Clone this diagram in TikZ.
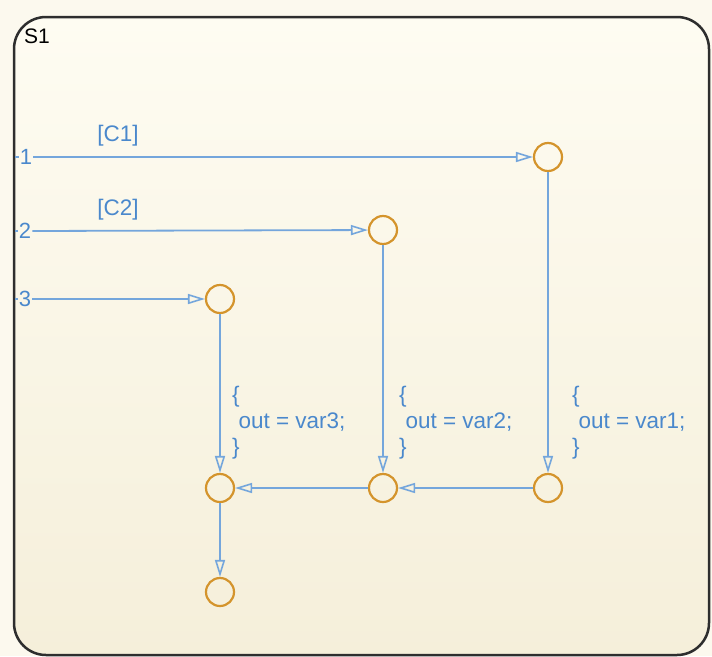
\documentclass[tikz,border=0pt]{standalone}
\usepackage{fontspec}
\setmainfont{Liberation Sans}
\usetikzlibrary{arrows.meta}
\definecolor{bgout}{HTML}{FCF9EE}
\definecolor{bgtop}{HTML}{FEFCF2}
\definecolor{bgbot}{HTML}{F5EFDA}
\definecolor{ln}{HTML}{74A6DC}
\definecolor{tx}{HTML}{4A88CC}
\definecolor{jn}{HTML}{D4942C}
\definecolor{bd}{HTML}{2E2E2E}
\tikzset{
  junc/.style={circle,draw=jn,line width=2.2pt,minimum size=28pt,inner sep=0pt},
  trans/.style={draw=ln,line width=1.8pt,-{Triangle[open,length=17pt,width=10pt,line width=1.6pt]}},
  plain/.style={draw=ln,line width=1.8pt},
  lbl/.style={text=tx,font=\fontsize{22.5}{26}\selectfont,inner sep=0pt},
  act/.style={text=tx,font=\fontsize{22.5}{26}\selectfont,align=left,anchor=north west,inner sep=0pt},
  num/.style={text=tx,font=\fontsize{22}{24}\selectfont,inner sep=1pt}
}
\begin{document}
\begin{tikzpicture}[x=1pt,y=-1pt]
\useasboundingbox (0,0) rectangle (712,656);
\fill[bgout] (0,0) rectangle (712,656);
\shade[top color=bgtop,bottom color=bgbot,rounded corners=32pt] (14,17) rectangle (709,655);
\draw[bd,line width=2.5pt,rounded corners=32pt] (14,17) rectangle (709,655);
\node[text=black,font=\fontsize{21}{24}\selectfont,anchor=north west,inner sep=0pt] (s1) at (24,29) {S1};

\node[junc] (A) at (548,157) {};
\node[junc] (B) at (383,230) {};
\node[junc] (C) at (220,299) {};
\node[junc] (D) at (548,488) {};
\node[junc] (E) at (383,488) {};
\node[junc] (F) at (220,488) {};
\node[junc] (G) at (220,592) {};

\coordinate (b1) at (15,157);
\coordinate (b2) at (15,231);
\coordinate (b3) at (15,299);
\node[num] (n1) at (26,157) {1};
\node[num] (n2) at (25,231) {2};
\node[num] (n3) at (25,299) {3};
\draw[plain] (b1) -- (n1.west);
\draw[plain] (b2) -- (n2.west);
\draw[plain] (b3) -- (n3.west);
\draw[trans] (n1.east) -- (A);
\draw[trans] (n2.east) -- (B);
\draw[trans] (n3.east) -- (C);

\node[lbl] (c1) at (118,136) {[C1]};
\node[lbl] (c2) at (118,210) {[C2]};

\draw[trans] (A) -- (D);
\draw[trans] (B) -- (E);
\draw[trans] (C) -- (F);
\draw[trans] (D) -- (E);
\draw[trans] (E) -- (F);
\draw[trans] (F) -- (G);

\node[act] (a1) at (572,386) {\{\\\hspace*{0.28em}out = var1;\\\}};
\node[act] (a2) at (399,386) {\{\\\hspace*{0.28em}out = var2;\\\}};
\node[act] (a3) at (232,386) {\{\\\hspace*{0.28em}out = var3;\\\}};
\end{tikzpicture}
\end{document}
